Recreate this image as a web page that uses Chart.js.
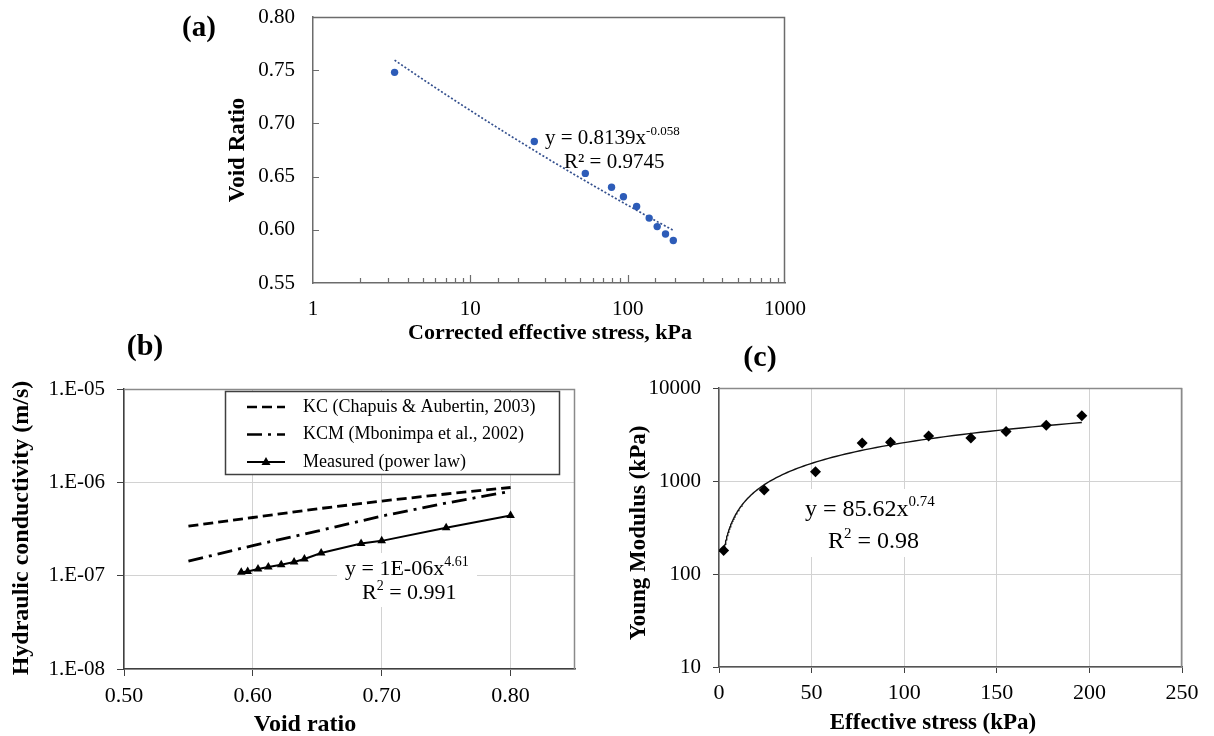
<!DOCTYPE html>
<html>
<head>
<meta charset="utf-8">
<title>Consolidation, conductivity and modulus</title>
<script src="https://cdn.jsdelivr.net/npm/chart.js@4.4.0/dist/chart.umd.min.js"></script>
<style>
  html, body { margin: 0; padding: 0; background: #fff; }
  #wrap { position: relative; width: 1214px; height: 736px; overflow: hidden; }
  #wrap canvas { position: absolute; left: 0; top: 0; }
</style>
</head>
<body>
<div id="wrap">
  <canvas id="chartA" width="1214" height="736"></canvas>
  <canvas id="chartB" width="1214" height="736"></canvas>
  <canvas id="chartC" width="1214" height="736"></canvas>
</div>
<script>
// (a) void ratio against corrected effective stress
const stressA = [3.3, 25.5, 53.8, 79, 94, 114, 137, 154, 174, 195];
const voidRatioA = [0.748, 0.683, 0.653, 0.640, 0.631, 0.622, 0.611, 0.603, 0.596, 0.590];
const fitA = [0.8139, -0.058];          // y = a * x^b
const yTicksA = [0.55, 0.60, 0.65, 0.70, 0.75, 0.80];
const xLabelsA = [1, 10, 100, 1000];

// (b) hydraulic conductivity against void ratio
const voidRatioB = [0.591, 0.596, 0.604, 0.612, 0.622, 0.632, 0.640, 0.653, 0.684, 0.700, 0.750, 0.800];
const measuredB = [1.09e-7, 1.11e-7, 1.18e-7, 1.24e-7, 1.31e-7, 1.40e-7, 1.51e-7, 1.75e-7, 2.21e-7, 2.36e-7, 3.26e-7, 4.42e-7];
const modelVoidB = [0.55, 0.60, 0.65, 0.70, 0.75, 0.80];
const kcB = [3.39e-7, 4.2e-7, 5.2e-7, 6.3e-7, 7.5e-7, 8.8e-7];
const kcmB = [1.43e-7, 2.1e-7, 3.0e-7, 4.35e-7, 6.0e-7, 8.0e-7];
const xTicksB = [0.5, 0.6, 0.7, 0.8];
const yTicksB = [1e-8, 1e-7, 1e-6, 1e-5];

// (c) Young modulus against effective stress
const stressC = [2.5, 24.4, 52.1, 77.3, 92.6, 113.2, 136.0, 155.0, 176.7, 195.9];
const modulusC = [179, 798, 1259, 2566, 2610, 3055, 2906, 3403, 3982, 5024];
const fitC = [85.62, 0.74];
const xTicksC = [0, 50, 100, 150, 200, 250];
const yTicksC = [10, 100, 1000, 10000];

const SERIF = "'Liberation Serif', 'Times New Roman', serif";
const fnt = (size, bold) => (bold ? 'bold ' : '') + size + 'px ' + SERIF;

// power-law trendline sampled between the first and last measured x
function powerCurve(fit, xs, n, logSpaced) {
  const x0 = xs[0], x1 = xs[xs.length - 1];
  const pts = [];
  for (let i = 0; i <= n; i++) {
    const t = i / n;
    const x = logSpaced ? x0 * Math.pow(x1 / x0, t) : x0 + (x1 - x0) * t;
    pts.push({ x: x, y: fit[0] * Math.pow(x, fit[1]) });
  }
  return pts;
}

// keep the plot box exactly where the layout padding puts it
const fixY = w => s => { s.width = w; s.paddingTop = 0; s.paddingBottom = 0; };
const fixX = h => s => { s.height = h; s.paddingLeft = 0; s.paddingRight = 0; };

function drawText(ctx, str, x, y, font, rotate) {
  ctx.save();
  ctx.font = font;
  ctx.fillStyle = '#000';
  ctx.textAlign = 'center';
  ctx.textBaseline = 'middle';
  ctx.translate(x, y);
  if (rotate) ctx.rotate(rotate);
  ctx.fillText(str, 0, 0);
  ctx.restore();
}

// text runs [string, isSuperscript] written left to right, y = middle of line
function drawRuns(ctx, runs, x, y, size) {
  ctx.save();
  ctx.fillStyle = '#000';
  ctx.textAlign = 'left';
  ctx.textBaseline = 'alphabetic';
  const base = y + size * 0.33;
  let cx = x;
  runs.forEach(([str, sup]) => {
    ctx.font = fnt(sup ? Math.round(size * 0.64) : size);
    ctx.fillText(str, cx, sup ? base - size * 0.42 : base);
    cx += ctx.measureText(str).width;
  });
  ctx.restore();
  return cx - x;
}

function frame(ctx, area, color, width) {
  ctx.save();
  ctx.strokeStyle = color;
  ctx.lineWidth = width;
  ctx.beginPath();
  ctx.moveTo(area.left, area.top + 0.5);
  ctx.lineTo(area.right - 0.5, area.top + 0.5);
  ctx.lineTo(area.right - 0.5, area.bottom);
  ctx.stroke();
  ctx.restore();
}

const quiet = () => ({ legend: { display: false }, tooltip: { enabled: false } });

// ---------- (a) ----------
new Chart(document.getElementById('chartA'), {
  type: 'scatter',
  data: {
    datasets: [
      {
        data: stressA.map((x, i) => ({ x: x, y: voidRatioA[i] })),
        pointRadius: 3.7, pointBorderWidth: 0,
        backgroundColor: '#2D5CB8', borderColor: '#2D5CB8', showLine: false
      },
      {
        data: powerCurve(fitA, stressA, 60, true),
        showLine: true, pointRadius: 0,
        borderColor: '#34508E', borderWidth: 1.7, borderDash: [2, 2]
      }
    ]
  },
  options: {
    responsive: false, animation: false, events: [],
    layout: { autoPadding: false, padding: { left: 253, top: 17, right: 429, bottom: 413 } },
    plugins: quiet(),
    scales: {
      x: {
        type: 'logarithmic', min: 1, max: 1000,
        afterFit: fixX(40),
        grid: { drawOnChartArea: false, drawTicks: false },
        border: { color: '#6c6c6c', width: 1.5 },
        ticks: {
          autoSkip: false, maxRotation: 0, padding: 14, color: '#000',
          font: { family: SERIF, size: 21 },
          callback: v => xLabelsA.some(l => Math.abs(l - v) < 1e-6) ? String(v) : ''
        }
      },
      y: {
        min: 0.55, max: 0.80,
        afterFit: fixY(60),
        afterBuildTicks: s => { s.ticks = yTicksA.map(v => ({ value: v })); },
        grid: { drawOnChartArea: false, drawTicks: false },
        border: { color: '#6c6c6c', width: 1.5 },
        ticks: {
          padding: 18, color: '#000',
          font: { family: SERIF, size: 21 },
          callback: v => v.toFixed(2)
        }
      }
    }
  },
  plugins: [{
    id: 'decorA',
    afterDraw(chart) {
      const ctx = chart.ctx, a = chart.chartArea;
      const sx = chart.scales.x, sy = chart.scales.y;
      frame(ctx, a, '#6c6c6c', 1.5);
      ctx.save();
      ctx.strokeStyle = '#6c6c6c';
      ctx.lineWidth = 1.2;
      ctx.beginPath();
      sx.ticks.forEach(t => {
        const px = Math.round(sx.getPixelForValue(t.value)) + 0.5;
        if (px <= a.left + 1 || px >= a.right - 1) return;
        const major = xLabelsA.some(l => Math.abs(l - t.value) < 1e-6);
        ctx.moveTo(px, a.bottom);
        ctx.lineTo(px, a.bottom - (major ? 8 : 5));
      });
      yTicksA.forEach(v => {
        const py = Math.round(sy.getPixelForValue(v)) + 0.5;
        if (py <= a.top + 1 || py >= a.bottom - 1) return;
        ctx.moveTo(a.left, py);
        ctx.lineTo(a.left + 6, py);
      });
      ctx.stroke();
      ctx.restore();

      drawText(ctx, '(a)', 199, 29, fnt(29, true));
      drawText(ctx, 'Void Ratio', 238, 150, fnt(23, true), -Math.PI / 2);
      drawText(ctx, 'Corrected effective stress, kPa', 550, 333, fnt(22, true));
      drawRuns(ctx, [['y = 0.8139x', false], ['-0.058', true]], 545, 137, 21);
      drawRuns(ctx, [['R\u00B2 = 0.9745', false]], 564, 161, 21);
    }
  }]
});

// ---------- (b) ----------
const legendB = [
  { text: 'KC (Chapuis & Aubertin, 2003)', dash: [10, 5], width: 2.6, marker: false },
  { text: 'KCM (Mbonimpa et al., 2002)', dash: [15, 6, 3, 6], width: 2.6, marker: false },
  { text: 'Measured (power law)', dash: [], width: 2, marker: true }
];

new Chart(document.getElementById('chartB'), {
  type: 'scatter',
  data: {
    datasets: [
      {
        data: voidRatioB.map((x, i) => ({ x: x, y: measuredB[i] })),
        showLine: true, borderColor: '#000', borderWidth: 2,
        pointStyle: 'triangle', pointRadius: 5, pointBorderWidth: 0, backgroundColor: '#000'
      },
      {
        data: modelVoidB.map((x, i) => ({ x: x, y: kcmB[i] })),
        showLine: true, pointRadius: 0, borderColor: '#000', borderWidth: 2.8,
        borderDash: [15, 6, 3, 6]
      },
      {
        data: modelVoidB.map((x, i) => ({ x: x, y: kcB[i] })),
        showLine: true, pointRadius: 0, borderColor: '#000', borderWidth: 2.8,
        borderDash: [10, 5]
      }
    ]
  },
  options: {
    responsive: false, animation: false, events: [],
    layout: { autoPadding: false, padding: { left: 24, top: 389, right: 639, bottom: 27 } },
    plugins: quiet(),
    scales: {
      x: {
        min: 0.5, max: 0.85,
        afterFit: fixX(40),
        afterBuildTicks: s => { s.ticks = xTicksB.map(v => ({ value: v })); },
        grid: { color: '#d2d2d2', tickColor: '#404040', tickLength: 7 },
        border: { color: '#404040', width: 1.5 },
        ticks: {
          padding: 7, color: '#000', maxRotation: 0,
          font: { family: SERIF, size: 22 },
          callback: v => v.toFixed(2)
        }
      },
      y: {
        type: 'logarithmic', min: 1e-8, max: 1e-5,
        afterFit: fixY(100),
        afterBuildTicks: s => { s.ticks = yTicksB.map(v => ({ value: v })); },
        grid: { color: '#d2d2d2', tickColor: '#404040', tickLength: 7 },
        border: { color: '#404040', width: 1.5 },
        ticks: {
          padding: 12, color: '#000',
          font: { family: SERIF, size: 21 },
          callback: v => '1.E-' + String(-Math.round(Math.log10(v))).padStart(2, '0')
        }
      }
    }
  },
  plugins: [{
    id: 'decorB',
    beforeDatasetsDraw(chart) {
      const ctx = chart.ctx;
      ctx.save();
      ctx.fillStyle = '#fff';
      ctx.fillRect(337, 553, 140, 54);
      ctx.restore();
    },
    afterDatasetsDraw(chart) {
      const ctx = chart.ctx, a = chart.chartArea;
      frame(ctx, a, '#8a8a8a', 1.5);

      // legend box
      ctx.save();
      ctx.fillStyle = '#fff';
      ctx.fillRect(225, 391, 334, 83);
      ctx.strokeStyle = '#404040';
      ctx.lineWidth = 1.5;
      ctx.strokeRect(225.5, 391.5, 334, 83);
      legendB.forEach((item, i) => {
        const y = 407 + i * 27.5;
        ctx.strokeStyle = '#000';
        ctx.lineWidth = item.width;
        ctx.setLineDash(item.dash);
        ctx.beginPath();
        ctx.moveTo(247, y);
        ctx.lineTo(285, y);
        ctx.stroke();
        ctx.setLineDash([]);
        if (item.marker) {
          ctx.fillStyle = '#000';
          ctx.beginPath();
          ctx.moveTo(266, y - 5);
          ctx.lineTo(270.5, y + 3);
          ctx.lineTo(261.5, y + 3);
          ctx.closePath();
          ctx.fill();
        }
        ctx.fillStyle = '#000';
        ctx.font = fnt(18);
        ctx.textAlign = 'left';
        ctx.textBaseline = 'middle';
        ctx.fillText(item.text, 303, y);
      });
      ctx.restore();

      drawRuns(ctx, [['y = 1E-06x', false], ['4.61', true]], 345, 568, 22);
      drawRuns(ctx, [['R', false], ['2', true], [' = 0.991', false]], 362, 592, 22);
    },
    afterDraw(chart) {
      const ctx = chart.ctx;
      drawText(ctx, '(b)', 145, 347, fnt(30, true));
      drawText(ctx, 'Hydraulic conductivity (m/s)', 22, 528, fnt(24, true), -Math.PI / 2);
      drawText(ctx, 'Void ratio', 305, 725, fnt(24, true));
    }
  }]
});

// ---------- (c) ----------
new Chart(document.getElementById('chartC'), {
  type: 'scatter',
  data: {
    datasets: [
      {
        data: stressC.map((x, i) => ({ x: x, y: modulusC[i] })),
        pointStyle: 'rectRot', pointRadius: 5.5, pointBorderWidth: 0,
        backgroundColor: '#000', borderColor: '#000', showLine: false
      },
      {
        data: powerCurve(fitC, stressC, 120, true),
        showLine: true, pointRadius: 0, borderColor: '#111', borderWidth: 1.4
      }
    ]
  },
  options: {
    responsive: false, animation: false, events: [],
    layout: { autoPadding: false, padding: { left: 619, top: 388, right: 32, bottom: 29 } },
    plugins: quiet(),
    scales: {
      x: {
        min: 0, max: 250,
        afterFit: fixX(40),
        afterBuildTicks: s => { s.ticks = xTicksC.map(v => ({ value: v })); },
        grid: { color: '#d2d2d2', tickColor: '#404040', tickLength: 6 },
        border: { color: '#555', width: 1.5 },
        ticks: {
          padding: 7, color: '#000', maxRotation: 0,
          font: { family: SERIF, size: 22 },
          callback: v => String(v)
        }
      },
      y: {
        type: 'logarithmic', min: 10, max: 10000,
        afterFit: fixY(100),
        afterBuildTicks: s => { s.ticks = yTicksC.map(v => ({ value: v })); },
        grid: { color: '#d2d2d2', tickColor: '#404040', tickLength: 6 },
        border: { color: '#555', width: 1.5 },
        ticks: {
          padding: 12, color: '#000',
          font: { family: SERIF, size: 21 },
          callback: v => String(Math.round(v))
        }
      }
    }
  },
  plugins: [{
    id: 'decorC',
    beforeDatasetsDraw(chart) {
      const ctx = chart.ctx;
      ctx.save();
      ctx.fillStyle = '#fff';
      ctx.fillRect(797, 489, 150, 68);
      ctx.restore();
    },
    afterDatasetsDraw(chart) {
      const ctx = chart.ctx, a = chart.chartArea;
      frame(ctx, a, '#8a8a8a', 1.5);
      drawRuns(ctx, [['y = 85.62x', false], ['0.74', true]], 805, 508, 24);
      drawRuns(ctx, [['R', false], ['2', true], [' = 0.98', false]], 828, 540, 24);
    },
    afterDraw(chart) {
      const ctx = chart.ctx;
      drawText(ctx, '(c)', 760, 358, fnt(30, true));
      drawText(ctx, 'Young Modulus (kPa)', 639, 533, fnt(23, true), -Math.PI / 2);
      drawText(ctx, 'Effective stress (kPa)', 933, 723, fnt(23, true));
    }
  }]
});
</script>
</body>
</html>
